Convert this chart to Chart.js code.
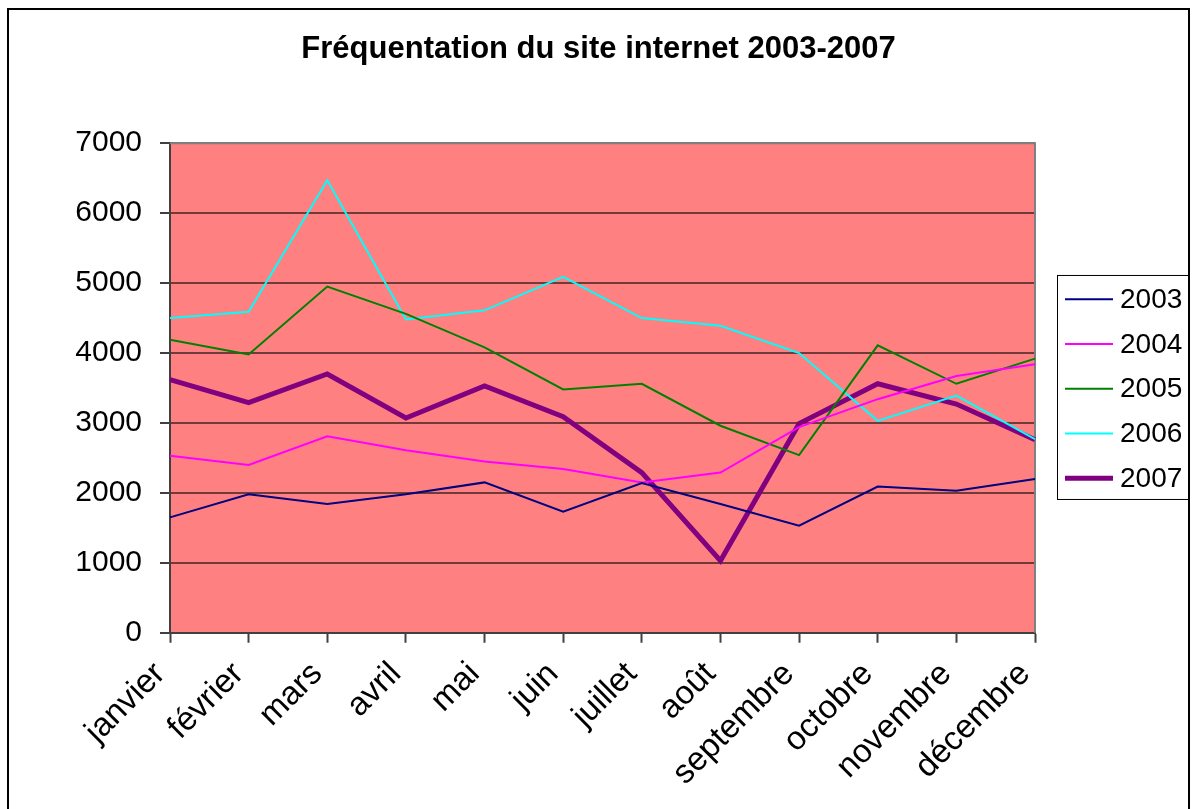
<!DOCTYPE html>
<html lang="fr">
<head>
<meta charset="utf-8">
<title>Fréquentation du site internet 2003-2007</title>
<script src="https://cdn.jsdelivr.net/npm/chart.js@4/dist/chart.umd.min.js"></script>
<style>
  html, body { margin: 0; padding: 0; background: #fff; }
  #wrap { width: 1197px; height: 809px; position: relative; }
</style>
</head>
<body>
<div id="wrap"><canvas id="visitsChart" width="1197" height="809"></canvas></div>
<script>
const months = ["janvier", "février", "mars", "avril", "mai", "juin", "juillet", "août", "septembre", "octobre", "novembre", "décembre"];
const years = ["2003", "2004", "2005", "2006", "2007"];

const visits2003 = [1650, 1980, 1840, 1980, 2150, 1730, 2140, 1840, 1530, 2090, 2030, 2200];
const visits2004 = [2530, 2400, 2810, 2610, 2450, 2340, 2150, 2290, 2940, 3340, 3670, 3840];
const visits2005 = [4190, 3980, 4950, 4560, 4080, 3480, 3560, 2960, 2540, 4110, 3560, 3920];
const visits2006 = [4500, 4590, 6470, 4480, 4610, 5090, 4500, 4390, 4000, 3030, 3390, 2770];
const visits2007 = [3620, 3290, 3700, 3070, 3530, 3090, 2290, 1030, 2990, 3560, 3270, 2760];

const yTicks = [0, 1000, 2000, 3000, 4000, 5000, 6000, 7000];

const lineColors = ["#000080", "#FF00FF", "#008000", "#00FFFF", "#800080"];
const lineWidths = [2, 2, 2, 2, 5];

const FONT = "'Liberation Sans', Arial, sans-serif";

const series = [visits2003, visits2004, visits2005, visits2006, visits2007];

// fond du graphique, cadre extérieur, bordure grise du tracé
const framePlugin = {
  id: "frame",
  beforeDraw(chart) {
    const { ctx, chartArea: a } = chart;
    ctx.save();
    ctx.fillStyle = "#fff";
    ctx.fillRect(0, 0, chart.width, chart.height);
    ctx.fillStyle = "#FF8080";
    ctx.fillRect(a.left, a.top, a.right - a.left, a.bottom - a.top);
    ctx.strokeStyle = "#000";
    ctx.lineWidth = 2;
    ctx.strokeRect(8, 9, chart.width - 16, chart.height + 20);
    ctx.restore();
  },
  beforeDatasetsDraw(chart) {
    const { ctx, chartArea: a } = chart;
    ctx.save();
    ctx.strokeStyle = "#808080";
    ctx.lineWidth = 2;
    ctx.beginPath();
    ctx.moveTo(a.left, a.top);
    ctx.lineTo(a.right, a.top);
    ctx.lineTo(a.right, a.bottom);
    ctx.stroke();
    ctx.restore();
  },
};

// légende encadrée à droite
const boxLegendPlugin = {
  id: "boxLegend",
  afterDraw(chart) {
    const { ctx, chartArea: a } = chart;
    const sets = chart.data.datasets;
    const rowH = 44.7;
    const boxW = 132;
    const boxH = rowH * sets.length + 0.5;
    const left = a.right + 22;
    const top = (a.top + a.bottom) / 2 - boxH / 2 - 1;
    ctx.save();
    ctx.strokeStyle = "#000";
    ctx.lineWidth = 1;
    ctx.strokeRect(left + 0.5, top + 0.5, boxW, boxH);
    ctx.font = "28px " + FONT;
    ctx.textBaseline = "middle";
    ctx.fillStyle = "#000";
    sets.forEach((ds, i) => {
      const y = top + rowH * (i + 0.5) + 2;
      ctx.strokeStyle = ds.borderColor;
      ctx.lineWidth = ds.borderWidth;
      ctx.beginPath();
      ctx.moveTo(left + 8, y);
      ctx.lineTo(left + 56, y);
      ctx.stroke();
      ctx.fillText(ds.label, left + 63, y + 1);
    });
    ctx.restore();
  },
};

new Chart(document.getElementById("visitsChart"), {
  type: "line",
  data: {
    labels: months,
    datasets: years.map((y, i) => ({
      label: y,
      data: series[i],
      borderColor: lineColors[i],
      backgroundColor: lineColors[i],
      borderWidth: lineWidths[i],
      pointRadius: 0,
      tension: 0,
      fill: false,
    })),
  },
  options: {
    responsive: false,
    animation: false,
    layout: { padding: { left: 0, right: 0, top: 0, bottom: 4 } },
    plugins: {
      legend: { display: false },
      tooltip: { enabled: false },
      title: {
        display: true,
        text: "Fréquentation du site internet 2003-2007",
        color: "#000",
        font: { family: FONT, size: 31, weight: "bold" },
        padding: { top: 31, bottom: 75 },
      },
    },
    scales: {
      x: {
        type: "category",
        offset: false,
        grid: { drawOnChartArea: false, drawTicks: true, tickLength: 10, tickColor: "#404040", tickWidth: 2 },
        border: { color: "#404040", width: 2 },
        ticks: {
          color: "#000",
          font: { family: FONT, size: 33 },
          maxRotation: 45,
          minRotation: 45,
          padding: 12,
          labelOffset: -10,
          autoSkip: false,
        },
      },
      y: {
        min: yTicks[0],
        max: yTicks[yTicks.length - 1],
        afterBuildTicks(scale) {
          scale.ticks = yTicks.map((v) => ({ value: v }));
        },
        afterFit(scale) {
          scale.width = 170;
        },
        grid: { color: "rgba(0,0,0,0.55)", lineWidth: 2, tickLength: 10, tickColor: "#404040" },
        border: { color: "#404040", width: 2 },
        ticks: {
          color: "#000",
          font: { family: FONT, size: 30 },
          padding: 18,
          callback: (v) => String(v),
        },
      },
      // espace réservé pour la légende
      legendSpace: {
        type: "linear",
        position: "right",
        display: true,
        grid: { display: false },
        border: { display: false },
        ticks: { display: false },
        afterFit(scale) {
          scale.width = 162;
        },
      },
    },
  },
  plugins: [framePlugin, boxLegendPlugin],
});
</script>
</body>
</html>
